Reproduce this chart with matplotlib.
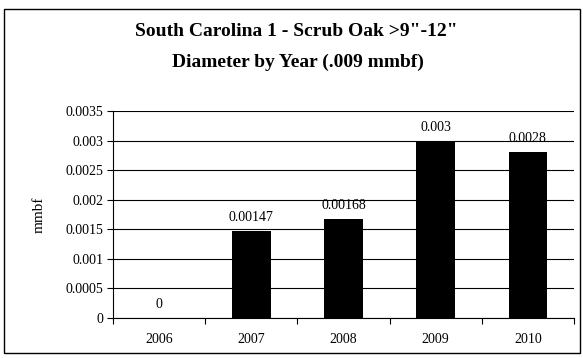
import matplotlib
matplotlib.use("Agg")
import matplotlib.pyplot as plt
from matplotlib.patches import Rectangle

years = ["2006", "2007", "2008", "2009", "2010"]
values = [0, 0.00147, 0.00168, 0.003, 0.0028]
labels = ["0", "0.00147", "0.00168", "0.003", "0.0028"]
yticks = [0, 0.0005, 0.001, 0.0015, 0.002, 0.0025, 0.003, 0.0035]
ytick_labels = ["0", "0.0005", "0.001", "0.0015", "0.002", "0.0025", "0.003", "0.0035"]

plt.rcParams['font.family'] = ['Liberation Serif', 'DejaVu Serif']

W, H = 583, 358
fig = plt.figure(figsize=(W/100, H/100), dpi=100)
fig.patches.append(Rectangle((4/W, 5/H), 576/W, 344/H, transform=fig.transFigure,
                             fill=False, edgecolor='black', linewidth=1.0))

left, right, top, bottom = 113, 574, 111, 318
ax = fig.add_axes([left/W, 1-bottom/H, (right-left)/W, (bottom-top)/H])

x = list(range(len(years)))
ax.bar(x, values, width=0.42, color='black', zorder=3)
ax.set_xlim(-0.5, len(years)-0.5)
ax.set_ylim(0, 0.0035)
ax.set_yticks(yticks)
ax.set_yticklabels(ytick_labels, fontsize=10)
ax.yaxis.grid(True, color='black', linewidth=0.8, zorder=0)
ax.set_axisbelow(True)

ax.set_xticks(x)
ax.set_xticklabels(years, fontsize=10)
ax.tick_params(axis='x', length=0, pad=11)
ax.set_xticks([i + 0.5 for i in range(-1, len(years))], minor=True)
ax.tick_params(axis='x', which='minor', length=4, direction='out', width=0.8)
ax.tick_params(axis='y', length=4, direction='out', width=0.8, pad=3)

for s in ['top', 'right']:
    ax.spines[s].set_visible(False)
for s in ['left', 'bottom']:
    ax.spines[s].set_linewidth(0.8)

ax.set_ylabel("mmbf", fontsize=11, labelpad=14)

for xi, v, lab in zip(x, values, labels):
    ax.annotate(lab, (xi, v), xytext=(0, 5), textcoords='offset points',
                ha='center', va='bottom', fontsize=10)

fig.text(296/W, 1-32/H, "South Carolina 1 - Scrub Oak >9\"-12\"", ha='center', va='center',
         fontsize=14, fontweight='bold')
fig.text(298/W, 1-62/H, "Diameter by Year (.009 mmbf)", ha='center', va='center',
         fontsize=14, fontweight='bold')

fig.savefig("out.png", dpi=100)
